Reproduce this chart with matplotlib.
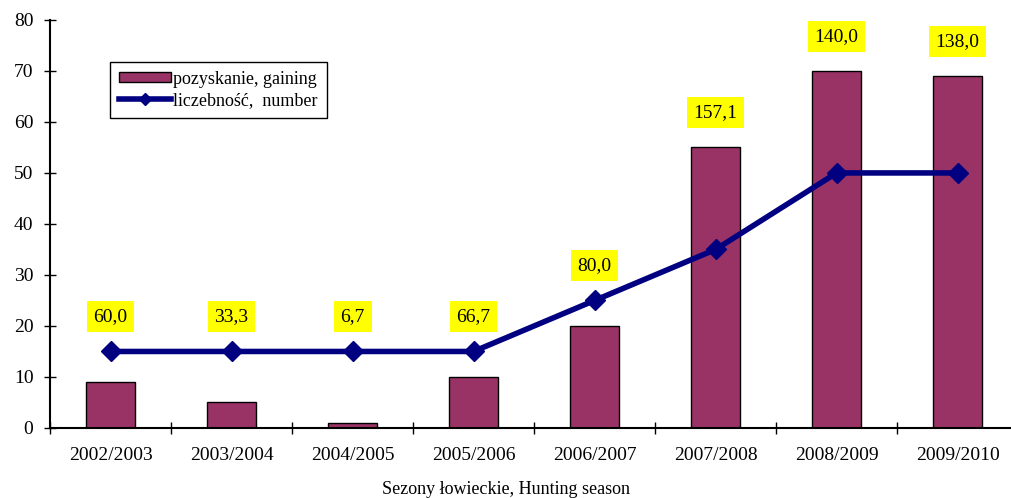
import numpy as np
import matplotlib
matplotlib.use("Agg")
from matplotlib import pyplot as plt

seasons = ["2002/2003", "2003/2004", "2004/2005", "2005/2006",
           "2006/2007", "2007/2008", "2008/2009", "2009/2010"]
gaining = [9, 5, 1, 10, 20, 55, 70, 69]
number = [15, 15, 15, 15, 25, 35, 50, 50]
ratio_labels = ["60,0", "33,3", "6,7", "66,7", "80,0", "157,1", "140,0", "138,0"]

plt.rcParams["font.family"] = ["Liberation Serif", "DejaVu Serif"]

fig = plt.figure(figsize=(10.11, 4.98), dpi=100)
ax = fig.add_axes([0.0495, 0.1406, 0.9575, 0.8194])

x = np.arange(len(seasons))
bars = ax.bar(x, gaining, width=0.4, color="#993366", edgecolor="black", linewidth=1,
              label="pozyskanie, gaining", zorder=2)
line, = ax.plot(x, number, color="#000080", linewidth=4, marker="D", markersize=10,
                label="liczebność,  number", zorder=3)

for xi, g, n, lab in zip(x, gaining, number, ratio_labels):
    ax.text(xi, max(g, n) + 6.8, lab, ha="center", va="center", fontsize=14,
            bbox=dict(boxstyle="square,pad=0.35", facecolor="yellow", edgecolor="none"),
            zorder=4)

ax.set_xlim(-0.5, len(seasons) - 0.5)
ax.set_ylim(0, 80)
ax.set_yticks(range(0, 81, 10))
ax.set_xticks(x)
ax.set_xticklabels(seasons)
ax.set_xticks(np.arange(-0.5, len(seasons), 1), minor=True)
ax.tick_params(axis="x", which="major", length=0, labelsize=14, pad=14)
ax.tick_params(axis="x", which="minor", direction="inout", length=8, width=1)
ax.tick_params(axis="y", direction="inout", length=8, width=1, labelsize=14, pad=8)

for side in ("top", "right"):
    ax.spines[side].set_visible(False)
ax.spines["left"].set_linewidth(1.5)
ax.spines["bottom"].set_linewidth(1.5)

fig.text(0.5, 1 - 489 / 498, "Sezony łowieckie, Hunting season", ha="center",
         va="center", fontsize=13)

leg = ax.legend([bars, line], ["pozyskanie, gaining", "liczebność,  number"],
                loc="upper left", bbox_to_anchor=(0.062, 0.898), borderaxespad=0,
                fontsize=13, frameon=True, fancybox=False, edgecolor="black",
                framealpha=1, borderpad=0.5, handlelength=2.9, handleheight=0.5,
                handletextpad=0.1, labelspacing=0.25)
leg.get_frame().set_linewidth(1)
leg.legend_handles[1].set_markersize(6)

fig.savefig("out.png", dpi=100, facecolor="white")
